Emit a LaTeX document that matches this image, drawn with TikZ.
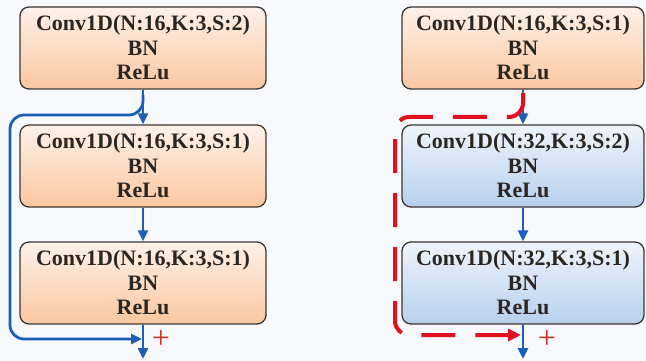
\documentclass[tikz,border=0pt]{standalone}
\usepackage{fontspec}
\setmainfont{Liberation Serif}
\usetikzlibrary{arrows.meta}
\definecolor{bgc}{HTML}{F7F9FC}
\definecolor{edgec}{HTML}{3A3633}
\definecolor{txtc}{HTML}{2B2622}
\definecolor{orTop}{HTML}{FDF1E8}
\definecolor{orBot}{HTML}{FBC7A0}
\definecolor{blTop}{HTML}{EFF4FB}
\definecolor{blBot}{HTML}{B8D0EE}
\definecolor{flowc}{HTML}{1C5FB8}
\definecolor{skipc}{HTML}{E0101C}
\definecolor{plusc}{HTML}{C43426}
\tikzset{
  layer/.style={draw=edgec, line width=1.3pt, rounded corners=9pt,
    minimum width=246pt, minimum height=82pt, inner sep=0pt,
    align=center, text=txtc,
    font=\fontsize{22}{24.5}\selectfont\bfseries},
  orangebox/.style={layer, top color=orTop, bottom color=orBot},
  bluebox/.style={layer, top color=blTop, bottom color=blBot},
  flow/.style={draw=flowc, line width=2.8pt,
    -{Triangle[length=11pt,width=10pt]}},
  skipblue/.style={flow, rounded corners=14pt},
  skipred/.style={draw=skipc, line width=4pt, rounded corners=14pt,
    dash pattern=on 34pt off 20pt,
    -{Triangle[length=13pt,width=12pt]}},
  plussign/.style={text=plusc, font=\fontsize{32}{32}\selectfont, inner sep=0pt}
}
\begin{document}
\begin{tikzpicture}[x=1pt,y=1pt]
  \fill[bgc] (0,0) rectangle (646,-361);
  \useasboundingbox (0,0) rectangle (646,-361);

  % plain block
  \node[orangebox] (a1) at (143,-48) {Conv1D(N:16,K:3,S:2)\\BN\\ReLu};
  \node[orangebox] (a2) at (143,-166) {Conv1D(N:16,K:3,S:1)\\BN\\ReLu};
  \node[orangebox] (a3) at (143,-283) {Conv1D(N:16,K:3,S:1)\\BN\\ReLu};

  % downsampling block
  \node[orangebox, minimum width=242pt] (b1) at (523,-48) {Conv1D(N:16,K:3,S:1)\\BN\\ReLu};
  \node[bluebox, minimum width=242pt] (b2) at (523,-166) {Conv1D(N:32,K:3,S:2)\\BN\\ReLu};
  \node[bluebox, minimum width=242pt] (b3) at (523,-283) {Conv1D(N:32,K:3,S:1)\\BN\\ReLu};

  % main path, left
  \draw[flow] (a1.south) -- (a2.north);
  \draw[flow] (a2.south) -- (a3.north);
  \coordinate (aout) at (143,-359);
  \draw[flow] (a3.south) -- (aout);

  % identity shortcut
  \coordinate (as) at (143,-95);
  \coordinate (ae) at (142,-339);
  \draw[skipblue] (as) -- (143,-115) -- (10,-115) -- (10,-339) -- (ae);
  \node[plussign] (ap) at (161,-339) {+};

  % main path, right
  \draw[flow] (b1.south) -- (b2.north);
  \draw[flow] (b2.south) -- (b3.north);
  \coordinate (bout) at (523,-359);
  \draw[flow] (b3.south) -- (bout);

  % projection shortcut
  \coordinate (bs) at (523,-93);
  \coordinate (be) at (521,-335);
  \draw[skipred] (bs) -- (523,-117) -- (395,-117) -- (395,-335) -- (be);
  \node[plussign] (bp) at (547,-339) {+};
\end{tikzpicture}
\end{document}
